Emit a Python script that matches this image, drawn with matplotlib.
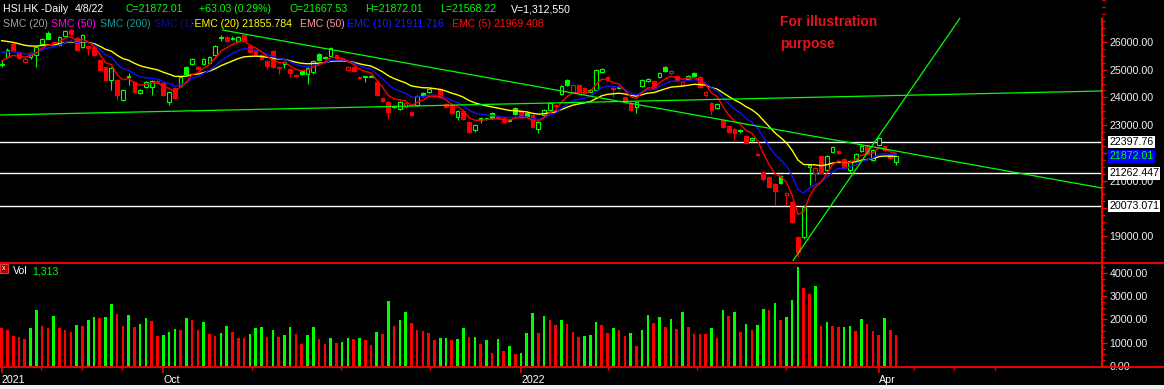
import matplotlib
matplotlib.use("Agg")
import matplotlib.pyplot as plt
import numpy as np
from matplotlib.ticker import MultipleLocator, FixedLocator, FuncFormatter
from matplotlib.patches import Rectangle
from matplotlib.lines import Line2D
import matplotlib.transforms as mtransforms

# ---------------- data ----------------
OPEN = [25180, 25460, 25930, 25640, 25280, 25460, 25530, 25930, 26330, 25890,
        25890, 26220, 26430, 26140, 25820, 25860, 25820, 25350, 25100, 24640,
        24630, 23910, 24740, 24560, 24160, 24380, 24380, 24520, 24520, 23830,
        24340, 24410, 25100, 25210, 25080, 25210, 25240, 25530, 26150, 26170,
        26120, 26040, 26250, 25860, 25710, 25530, 25310, 25670, 25090, 25210,
        25020, 24800, 24950, 24850, 24900, 25570, 25420, 25500, 25530, 25420,
        24990, 25090, 24730, 24720, 24750, 24560, 23980, 23830, 23650, 23580,
        23650, 23470, 23730, 24160, 24200, 24100, 24300, 23760, 23720, 23290,
        23510, 23110, 22820, 23250, 23220, 23440, 23280, 23250, 23140, 23620,
        23510, 23440, 23360, 22860, 23360, 23550, 23730, 24120, 24630, 24190,
        24440, 24340, 24200, 24270, 24920, 24740, 24340, 24350, 24010, 23800,
        23660, 24410, 24600, 24590, 24740, 25100, 24880, 24770, 24450, 24660,
        24880, 24740, 24090, 23800, 23620, 23180, 22970, 22860, 22770, 22610,
        22480, 21950, 21300, 21120, 20870, 21160, 20480, 20220, 18960, 18960,
        21490, 21270, 21880, 21380, 22030, 22070, 21780, 21380, 21780, 22070,
        22280, 21740, 22280, 22250, 21930, 21667.53]
HIGH = [25350, 25780, 26000, 25680, 25450, 25640, 25850, 26150, 26380, 26040,
        26220, 26430, 26470, 26200, 26290, 25890, 25860, 25390, 25130, 25100,
        24660, 24300, 24880, 24600, 24300, 24600, 24620, 24620, 24560, 24230,
        24380, 24780, 25130, 25420, 25130, 25420, 25500, 25900, 26250, 26220,
        26200, 26220, 26300, 25900, 25740, 25560, 25350, 25700, 25120, 25310,
        25060, 24840, 24990, 25100, 25350, 25600, 25500, 25830, 25560, 25450,
        25120, 25120, 24760, 24790, 24810, 24600, 24010, 23870, 23730, 23870,
        23830, 23500, 24090, 24200, 24340, 24130, 24340, 23800, 23760, 23540,
        23550, 23150, 23040, 23290, 23270, 23480, 23310, 23290, 23210, 23660,
        23550, 23480, 23400, 23150, 23580, 23840, 23760, 24450, 24670, 24470,
        24480, 24380, 24310, 25030, 25070, 24780, 24440, 24420, 24050, 23840,
        23870, 24670, 24700, 24630, 24920, 25140, 24990, 24810, 24590, 24810,
        24920, 24780, 24230, 23840, 23800, 23220, 23000, 22890, 22860, 22650,
        22560, 21990, 21340, 21160, 20900, 21200, 20590, 20260, 19000, 20080,
        21600, 21500, 21920, 21920, 22250, 22100, 21820, 21740, 22000, 22290,
        22320, 22140, 22570, 22290, 21960, 21872.01]
LOW = [25100, 25420, 25640, 25380, 25250, 25400, 25100, 25900, 26100, 25860,
       25860, 26200, 26260, 25680, 25790, 25530, 25490, 24950, 24590, 24270,
       23910, 23870, 24450, 24160, 24120, 24340, 24090, 24500, 24050, 23730,
       23940, 24380, 24810, 25170, 24980, 25170, 25200, 25500, 26040, 25990,
       26080, 26000, 26040, 25600, 25530, 25350, 25020, 25060, 24850, 25060,
       24740, 24720, 24810, 24480, 24860, 25320, 25380, 25470, 25380, 25330,
       24960, 24920, 24660, 24560, 24720, 24050, 23850, 23220, 23610, 23540,
       23620, 23340, 23690, 24030, 24160, 24010, 23990, 23620, 23400, 23180,
       23180, 22710, 22750, 23080, 23190, 23230, 23210, 23080, 23100, 23370,
       23250, 23270, 22890, 22710, 23330, 23510, 23650, 24090, 24410, 24160,
       24160, 24120, 24170, 24240, 24880, 24590, 24030, 24330, 23790, 23510,
       23440, 24380, 24570, 24300, 24700, 24920, 24850, 24560, 24410, 24630,
       24740, 24340, 24010, 23370, 23580, 22890, 22720, 22460, 22720, 22310,
       22440, 21880, 21000, 20720, 20120, 20870, 20120, 19460, 18240, 18900,
       20840, 20980, 21230, 21340, 21990, 21960, 21420, 21270, 21740, 22030,
       21960, 21700, 22240, 22070, 21770, 21568.22]
CLOSE = [25200, 25710, 25680, 25420, 25400, 25600, 25820, 26110, 26120, 26000,
         26180, 26400, 26290, 25710, 26250, 25790, 25530, 24990, 24630, 25060,
         24090, 24270, 24770, 24200, 24270, 24560, 24590, 24580, 24090, 24200,
         23980, 24740, 24850, 25390, 25020, 25390, 25460, 25860, 26180, 26030,
         26160, 26180, 26070, 25640, 25570, 25390, 25130, 25100, 25060, 25280,
         24880, 24760, 24850, 25060, 25310, 25350, 25460, 25780, 25420, 25360,
         25090, 24960, 24700, 24760, 24780, 24090, 23880, 23470, 23690, 23830,
         23800, 23370, 24050, 24070, 24300, 24050, 24020, 23650, 23440, 23510,
         23220, 22750, 23000, 23180, 23240, 23260, 23250, 23110, 23170, 23400,
         23290, 23300, 22930, 23110, 23550, 23800, 23690, 24410, 24450, 24430,
         24200, 24160, 24270, 24990, 25030, 24630, 24290, 24380, 23830, 23550,
         23840, 24630, 24660, 24340, 24880, 24960, 24950, 24590, 24550, 24770,
         24780, 24380, 24200, 23550, 23760, 22930, 22750, 22720, 22810, 22350,
         22520, 21910, 21040, 20760, 20620, 20910, 20550, 19500, 18420, 20040,
         21560, 21450, 21270, 21880, 22210, 21990, 21450, 21700, 21960, 22250,
         21990, 22100, 22530, 22100, 21809, 21872.01]
VOLUME = [1647, 1548, 1290, 1247, 1161, 1647, 2408, 1720, 1647, 2150,
          1647, 1548, 1462, 1763, 1740, 1978, 2107, 2078, 2107, 2666,
          2236, 1720, 2193, 1691, 1806, 2078, 1935, 1290, 1333, 1462,
          1591, 1548, 2078, 1978, 1548, 1892, 1376, 1290, 1419, 1720,
          1462, 1204, 1190, 1376, 1634, 1677, 1247, 1548, 1247, 1333,
          1677, 1376, 946, 1333, 1677, 1161, 946, 1204, 989, 1032,
          1204, 1161, 1204, 1118, 903, 1462, 1376, 2795, 1720, 1978,
          2322, 1849, 1548, 1505, 1419, 1118, 1204, 1220, 1118, 1161,
          1634, 1247, 1260, 946, 1118, 559, 1161, 645, 860, 516,
          559, 1419, 2279, 1419, 2150, 1978, 1763, 1978, 1806, 1462,
          1247, 1290, 1333, 1892, 1763, 1419, 1634, 1548, 1290, 1419,
          860, 1548, 2193, 1849, 2107, 1677, 2021, 1591, 2322, 1677,
          1380, 1375, 1370, 1634, 1204, 2408, 2150, 2322, 1462, 1806,
          1548, 1763, 2451, 2408, 2709, 1978, 2107, 2838, 4257, 3354,
          3096, 3440, 1720, 1892, 1720, 1677, 1690, 1720, 1505, 2021,
          1806, 1505, 1333, 2064, 1548, 1313]

EMA_PERIODS = [20, 10, 5]
EMA_SEEDS = [26140, 25720, 25350]          # values just before the first bar
EMA_COLORS = ["#ffff00", "#1010ff", "#ff0000"]

TREND_A_IDX, TREND_A_PRICE = [38.2, 190.7], [26433, 20729]
TREND_B_IDX, TREND_B_PRICE = [-0.3, 190.7], [23365, 24231]
TREND_C_IDX, TREND_C_PRICE = [137.1, 166.1], [18094, 26866]
LEVELS = [22397.76, 21262.447, 20073.071]
LAST_CLOSE = 21872.01

DATE_MAJOR_IDX = [0, 28, 90, 152]
DATE_MAJOR_LABELS = ["2021", "Oct", "2022", "Apr"]
DATE_MINOR_IDX = [6.8, 13.9, 20.9, 43.4, 58.8, 74.2, 105.1, 120.5, 135.9, 158.1, 165.0, 172.1]

PRICE_TICKS = [19000, 20000, 21000, 22000, 23000, 24000, 25000, 26000]
# 20000 and 22000 sit under the level boxes in the reference, so no text there
PRICE_TICK_LABELS = ["19000.00", "", "21000.00", "", "23000.00", "24000.00",
                     "25000.00", "26000.00"]
VOL_TICKS = [0, 1000, 2000, 3000, 4000]

# ---------------- figure ----------------
W, H = 1164, 389
plt.rcParams["font.family"] = ["Liberation Sans", "DejaVu Sans"]
fig = plt.figure(figsize=(W / 100, H / 100), dpi=100, facecolor="black")

def fx(px):
    return px / W

def fy(py):
    return 1 - py / H

AX_RIGHT = 1102
ax = fig.add_axes([0, fy(263), fx(AX_RIGHT), 263 / H])
axv = fig.add_axes([0, fy(367), fx(AX_RIGHT), (367 - 263) / H])

STEP, OFF = 5.77, 1.7
xlim = (-OFF / STEP, (AX_RIGHT - OFF) / STEP)
for a in (ax, axv):
    a.set_facecolor("black")
    a.set_xlim(*xlim)
    for s in ("top", "bottom", "left"):
        a.spines[s].set_visible(False)
    a.spines["right"].set_color("red")
    a.spines["right"].set_linewidth(1.5)
    a.yaxis.tick_right()

ax.set_ylim(18022, 27516)
axv.set_ylim(-43, 4430)

o = np.array(OPEN, float); h = np.array(HIGH, float)
l = np.array(LOW, float); c = np.array(CLOSE, float)
v = np.array(VOLUME, float)
n = len(c)
idx = np.arange(n)

prev_c = np.r_[o[0], c[:-1]]
GREEN, RED = "#00ff00", "#ff0000"
col = np.where(c >= prev_c, GREEN, RED)
hollow = c > o

# wicks
ax.vlines(idx, l, h, colors=col, linewidth=0.8, zorder=3)
# bodies
bottom = np.minimum(o, c)
height = np.maximum(np.abs(c - o), 25)
face = np.where(hollow, "black", col)
ax.bar(idx, height, bottom=bottom, width=0.64, color=face, edgecolor=col,
       linewidth=0.8, zorder=4)

# EMAs
for per, seed, ec in zip(EMA_PERIODS, EMA_SEEDS, EMA_COLORS):
    alpha = 2.0 / (per + 1)
    vals = []
    prev = seed
    for x in c:
        prev = alpha * x + (1 - alpha) * prev
        vals.append(prev)
    ax.plot(idx, vals, color=ec, linewidth=1.0, zorder=5)

# trend lines
for xi, yp in ((TREND_A_IDX, TREND_A_PRICE), (TREND_B_IDX, TREND_B_PRICE),
               (TREND_C_IDX, TREND_C_PRICE)):
    ax.plot(xi, yp, color="#00ff00", linewidth=0.9, zorder=5, solid_capstyle="butt")

for lv in LEVELS:
    ax.axhline(lv, color="white", linewidth=1.0, zorder=2)

# price axis ticks
ax.set_yticks(PRICE_TICKS)
ax.set_yticklabels(PRICE_TICK_LABELS)
ax.yaxis.set_minor_locator(MultipleLocator(250))
ax.tick_params(axis="y", which="major", colors="red", labelcolor="#f0f0f0",
               length=3.5, width=1, labelsize=7.7, pad=2, direction="out")
ax.tick_params(axis="y", which="minor", colors="red", length=2, width=1, direction="out")
ax.set_xticks([])
ax.spines["right"].set_bounds(18022, 26830)

# level labels
tr = mtransforms.blended_transform_factory(ax.transAxes, ax.transData)
xlab = 1109 / AX_RIGHT
for lv in LEVELS:
    ax.text(xlab, lv, f"{lv}", transform=tr, color="black", fontsize=7.7,
            va="center", ha="left", clip_on=False, zorder=10,
            bbox=dict(boxstyle="square,pad=0.12", facecolor="white", edgecolor="none"))
ax.text(xlab, LAST_CLOSE, f"{LAST_CLOSE:.2f}", transform=tr, color="#00ff00", fontsize=7.7,
        va="center", ha="left", clip_on=False, zorder=10,
        bbox=dict(boxstyle="square,pad=0.12", facecolor="#0000ff", edgecolor="none"))

# volume
vcol = np.where(np.r_[False, v[1:] > v[:-1]], GREEN, RED)
axv.bar(idx, v, width=0.45, color=vcol, linewidth=0, zorder=3)
axv.set_yticks(VOL_TICKS)
axv.yaxis.set_minor_locator(MultipleLocator(250))
axv.yaxis.set_major_formatter(FuncFormatter(lambda val, pos: f"{val:.2f}"))
axv.tick_params(axis="y", which="major", colors="red", labelcolor="#f0f0f0",
                length=3.5, width=1, labelsize=7.7, pad=2, direction="out")
axv.tick_params(axis="y", which="minor", colors="red", length=2, width=1, direction="out")

axv.set_xticks(DATE_MAJOR_IDX)
axv.set_xticklabels(DATE_MAJOR_LABELS)
axv.xaxis.set_minor_locator(FixedLocator(DATE_MINOR_IDX))
axv.tick_params(axis="x", which="major", colors="red", labelcolor="white",
                length=4.5, width=1.2, labelsize=7.7, pad=1)
axv.tick_params(axis="x", which="minor", colors="red", length=2, width=1)
for lab in axv.get_xticklabels():
    lab.set_horizontalalignment("left")

# frame lines across the figure
for yy in (263, 367):
    fig.add_artist(Line2D([0, 1], [fy(yy), fy(yy)], transform=fig.transFigure,
                          color="red", linewidth=1.3))
fig.add_artist(Rectangle((0, 0), 1, 4.5 / H, transform=fig.transFigure,
                         facecolor="#eeeeee", edgecolor="none"))

# header texts
FS = 7.6
row1 = [("HSI.HK -Daily", 3, "white"), ("4/8/22", 75, "white"),
        ("C=21872.01", 126, GREEN), ("+63.03 (0.29%)", 199, GREEN),
        ("O=21667.53", 290, GREEN), ("H=21872.01", 365, GREEN),
        ("L=21568.22", 440, GREEN), ("V=1,312,550", 511, "white")]
for txt, xp, cc in row1:
    fig.text(fx(xp), fy(9), txt, color=cc, fontsize=FS, va="center", ha="left")
row2 = [("SMC (20)", 3, "#a0a0a0"), ("SMC (50)", 51, "#ff00ff"),
        ("SMC (200)", 100, "#1a9a9a"), ("SMC (1)", 154, "#101080"),
        ("\u00b7EMC (20) 21855.784", 191, "#ffff00"), ("EMC (50)", 300, "#ff9a9a"),
        ("EMC (10) 21911.716", 347, "#1a1aff"), ("EMC (5) 21969.408", 452, "#ff1010")]
for txt, xp, cc in row2:
    fig.text(fx(xp), fy(24), txt, color=cc, fontsize=FS, va="center", ha="left")

fig.text(fx(780), fy(22), "For illustration", color="#e8141b", fontsize=10,
         fontweight="bold", va="center", ha="left")
fig.text(fx(780), fy(44), "purpose", color="#e8141b", fontsize=10,
         fontweight="bold", va="center", ha="left")

# volume caption
fig.add_artist(Rectangle((fx(0), fy(273)), fx(8), 9 / H, transform=fig.transFigure,
                         facecolor="#b00000", edgecolor="#ff4040", linewidth=0.6))
fig.text(fx(4), fy(268.5), "x", color="white", fontsize=5, va="center", ha="center")
fig.text(fx(13), fy(271), "Vol", color="white", fontsize=FS, va="center", ha="left")
fig.text(fx(32), fy(271), "1,313", color=GREEN, fontsize=FS, va="center", ha="left")

fig.savefig("out.png", dpi=100, facecolor="black")
